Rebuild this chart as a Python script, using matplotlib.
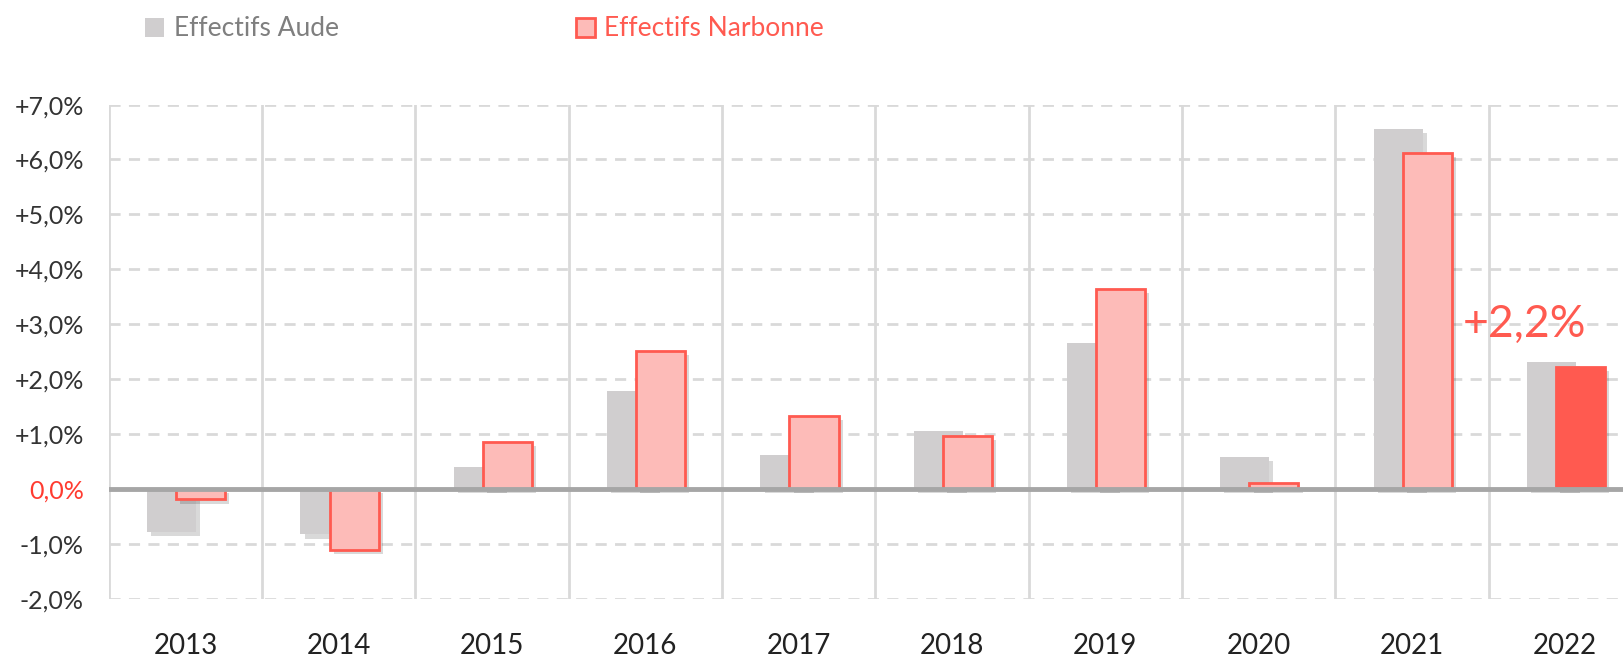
import numpy as np
import matplotlib
matplotlib.use("Agg")
import matplotlib.pyplot as plt
import matplotlib.patheffects as pe
from matplotlib.patches import Rectangle

plt.rcParams['font.family'] = ['Lato', 'DejaVu Sans']

# data
years = ["2013", "2014", "2015", "2016", "2017", "2018", "2019", "2020", "2021", "2022"]
aude = [-0.79, -0.83, 0.40, 1.79, 0.61, 1.05, 2.65, 0.59, 6.56, 2.32]
narbonne = [-0.19, -1.11, 0.86, 2.51, 1.33, 0.96, 3.65, 0.10, 6.12, 2.22]
yticks = [-2, -1, 0, 1, 2, 3, 4, 5, 6, 7]
ytick_labels = ["-2,0%", "-1,0%", "0,0%", "+1,0%", "+2,0%", "+3,0%",
                "+4,0%", "+5,0%", "+6,0%", "+7,0%"]
last_label = "+2,2%"

grey = "#D0CECF"
pink = "#FDBBB8"
red = "#FF5A50"
txt = "#333333"

fig = plt.figure(figsize=(16.24, 6.64), dpi=100)
ax = fig.add_axes([0.067, 0.0983, 0.944, 0.7442])

x = np.arange(len(years))
w = 0.32
shadow = [pe.SimplePatchShadow(offset=(3, -3), shadow_rgbFace="k", alpha=0.15), pe.Normal()]

b1 = ax.bar(x - 0.09, aude, w, color=grey, zorder=3)
face = [pink] * (len(years) - 1) + [red]
b2 = ax.bar(x + 0.10, narbonne, w, color=face, edgecolor=red, linewidth=2, zorder=4)
for b in list(b1) + list(b2):
    b.set_path_effects(shadow)

# grid
for yv in yticks:
    if yv != 0:
        ax.axhline(yv, color="#D9D9D9", lw=2, ls=(0, (4, 3)), zorder=1)
for xv in np.arange(-0.5, len(years), 1.0):
    ax.axvline(xv, color="#D9D9D9", lw=2, zorder=1)
ax.axhline(0, color="#A6A6A6", lw=3.5, zorder=5)

ax.set_xlim(-0.5, len(years) - 0.5)
ax.set_ylim(-2, 7)
ax.set_yticks(yticks)
ax.set_yticklabels(ytick_labels, fontsize=18, color=txt)
for t, yv in zip(ax.get_yticklabels(), yticks):
    if yv == 0:
        t.set_color("#FF3B30")
ax.set_xticks(x)
ax.set_xticklabels(years, fontsize=20, color="#222222")
ax.tick_params(axis="y", length=0, pad=18)
ax.tick_params(axis="x", length=0, pad=25)
for s in ax.spines.values():
    s.set_visible(False)

ax.text(8.33, 3.0, last_label, color=red, fontsize=32,
        ha="left", va="center", zorder=6)

# legend
fig.patches.append(Rectangle((145 / 1624, 1 - 37 / 664), 19 / 1624, 19 / 664,
                             transform=fig.transFigure, facecolor=grey, edgecolor="none"))
fig.text(174 / 1624, 1 - 28 / 664, "Effectifs Aude", color="#7F7F7F", fontsize=19,
         va="center", ha="left")
fig.patches.append(Rectangle((576 / 1624, 1 - 37 / 664), 19 / 1624, 19 / 664,
                             transform=fig.transFigure, facecolor=pink, edgecolor=red, lw=2))
fig.text(604 / 1624, 1 - 28 / 664, "Effectifs Narbonne", color=red, fontsize=19,
         va="center", ha="left")

fig.savefig("out.png", dpi=100)
